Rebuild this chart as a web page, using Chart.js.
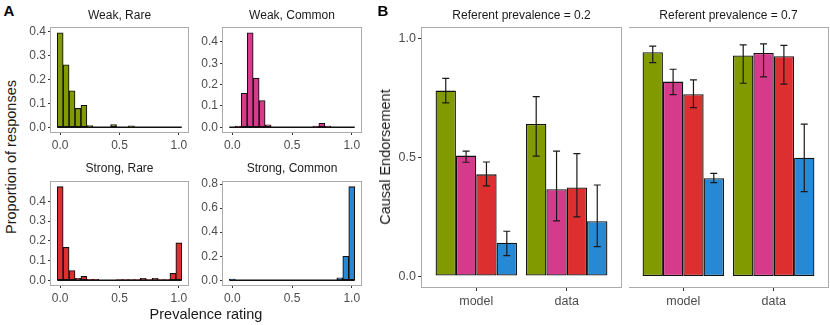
<!DOCTYPE html>
<html>
<head>
<meta charset="utf-8">
<script src="https://cdn.jsdelivr.net/npm/chart.js@4.4.1/dist/chart.umd.min.js"></script>
<style>
  html, body { margin: 0; padding: 0; background: #fff; overflow: hidden; }
  #fig { position: relative; width: 830px; height: 325px; font-family: "Liberation Sans", Arial, sans-serif; }
  .box { position: absolute; }
  .lbl { position: absolute; white-space: nowrap; color: #1a1a1a; transform: translate(-50%, -50%); }
</style>
</head>
<body>
<div id="fig"></div>
<script>
/* ===========================
   DATA
=========================== */

// panel A: histograms of prevalence ratings (bin width 0.05)
const binCenters = [0.00, 0.05, 0.10, 0.15, 0.20, 0.25, 0.30, 0.35, 0.40, 0.45, 0.50,
                    0.55, 0.60, 0.65, 0.70, 0.75, 0.80, 0.85, 0.90, 0.95, 1.00];
const weakRare     = [0.396, 0.262, 0.153, 0.079, 0.092, 0.007, 0, 0, 0, 0.011, 0,
                      0, 0.006, 0, 0, 0, 0, 0, 0, 0, 0];
const weakCommon   = [0, 0.006, 0.159, 0.443, 0.230, 0.125, 0.012, 0, 0, 0, 0,
                      0, 0, 0, 0.006, 0.019, 0.006, 0, 0, 0, 0];
const strongRare   = [0.475, 0.167, 0.050, 0.010, 0.020, 0.005, 0.005, 0, 0, 0, 0.004,
                      0.004, 0.004, 0.004, 0.010, 0.004, 0.010, 0.004, 0.004, 0.035, 0.190];
const strongCommon = [0.010, 0, 0, 0, 0, 0, 0, 0, 0, 0, 0,
                      0, 0, 0, 0, 0, 0, 0, 0.020, 0.200, 0.778];
const histTicksX = [0, 0.5, 1.0];
const histTicksY = [0, 0.1, 0.2, 0.3, 0.4];
const histTicksYCommon = [0, 0.2, 0.4, 0.6, 0.8];

// panel B: causal endorsement, order = weak rare, weak common, strong rare, strong common
const groups = ["model", "data"];
const seriesNames = ["Weak, Rare", "Weak, Common", "Strong, Rare", "Strong, Common"];
const seriesColors = ["#809a00", "#d63a8a", "#dd2f2f", "#2789d4"];

const ref02Model   = [0.782, 0.508, 0.429, 0.141];
const ref02ModelLo = [0.730, 0.480, 0.380, 0.086];
const ref02ModelHi = [0.834, 0.527, 0.481, 0.189];
const ref02Data    = [0.641, 0.366, 0.374, 0.231];
const ref02DataLo  = [0.506, 0.233, 0.250, 0.124];
const ref02DataHi  = [0.757, 0.527, 0.516, 0.384];

const ref07Model   = [0.944, 0.820, 0.767, 0.413];
const ref07ModelLo = [0.900, 0.765, 0.710, 0.394];
const ref07ModelHi = [0.970, 0.872, 0.827, 0.433];
const ref07Data    = [0.930, 0.941, 0.927, 0.499];
const ref07DataLo  = [0.813, 0.840, 0.809, 0.356];
const ref07DataHi  = [0.975, 0.979, 0.973, 0.641];

const endorseTicksY = [0, 0.5, 1.0];

/* ===========================
   HELPERS
=========================== */

const fig = document.getElementById("fig");
const FONT = "'Liberation Sans', Arial, sans-serif";
const TICK_COLOR = "#4d4d4d";

function addLabel(text, x, y, size, opts = {}) {
  const d = document.createElement("div");
  d.className = "lbl";
  d.textContent = text;
  d.style.left = x + "px";
  d.style.top = y + "px";
  d.style.fontSize = size + "px";
  if (opts.bold) d.style.fontWeight = "bold";
  if (opts.rotate) d.style.transform = "translate(-50%, -50%) rotate(-90deg)";
  if (opts.color) d.style.color = opts.color;
  fig.appendChild(d);
}

// places a canvas so that the chart area lands on the given plot box
function addCanvas(plot, yAxisW, xAxisH, padTop, padRight) {
  const div = document.createElement("div");
  div.className = "box";
  div.style.left = (plot.left - yAxisW) + "px";
  div.style.top = (plot.top - padTop) + "px";
  div.style.width = (plot.right - plot.left + yAxisW + padRight) + "px";
  div.style.height = (plot.bottom - plot.top + padTop + xAxisH) + "px";
  const c = document.createElement("canvas");
  div.appendChild(c);
  fig.appendChild(div);
  return c.getContext("2d");
}

const panelBorder = {
  id: "panelBorder",
  afterDraw(chart) {
    const a = chart.chartArea, ctx = chart.ctx;
    ctx.save();
    ctx.strokeStyle = "#ababab";
    ctx.lineWidth = 1;
    ctx.strokeRect(Math.round(a.left) - 0.5, Math.round(a.top) - 0.5,
                   Math.round(a.right - a.left) + 1, Math.round(a.bottom - a.top) + 1);
    ctx.restore();
  }
};

// zero-height histogram bins still show their outline in the original
const histBaseline = {
  id: "histBaseline",
  afterDatasetsDraw(chart) {
    const x = chart.scales.x, y = chart.scales.y, ctx = chart.ctx;
    const y0 = y.getPixelForValue(0);
    ctx.save();
    ctx.strokeStyle = "#111";
    ctx.lineWidth = 1.6;
    ctx.beginPath();
    ctx.moveTo(x.getPixelForValue(binCenters[0] - 0.025), y0);
    ctx.lineTo(x.getPixelForValue(binCenters[binCenters.length - 1] + 0.025), y0);
    ctx.stroke();
    ctx.restore();
  }
};

const errorBars = {
  id: "errorBars",
  afterDatasetsDraw(chart) {
    const y = chart.scales.y, ctx = chart.ctx;
    ctx.save();
    ctx.strokeStyle = "#1a1a1a";
    ctx.lineWidth = 1.2;
    chart.data.datasets.forEach((ds, i) => {
      chart.getDatasetMeta(i).data.forEach((bar, j) => {
        const lo = y.getPixelForValue(ds.lo[j]);
        const hi = y.getPixelForValue(ds.hi[j]);
        ctx.beginPath();
        ctx.moveTo(bar.x, lo); ctx.lineTo(bar.x, hi);
        ctx.moveTo(bar.x - 3.5, lo); ctx.lineTo(bar.x + 3.5, lo);
        ctx.moveTo(bar.x - 3.5, hi); ctx.lineTo(bar.x + 3.5, hi);
        ctx.stroke();
      });
    });
    ctx.restore();
  }
};

function fixedTicks(list) {
  return s => { s.ticks = list.map(v => ({ value: v })); };
}

const tickGrid = len => ({ display: true, offset: false, drawOnChartArea: false, tickLength: len, color: "#333" });

/* ===========================
   PANEL A: HISTOGRAMS
=========================== */

function histogram(plot, values, color, ticksY) {
  const ctx = addCanvas(plot, 30, 22, 10, 12);
  const top = Math.max(...values);
  new Chart(ctx, {
    type: "bar",
    data: {
      datasets: [{
        data: binCenters.map((b, i) => ({ x: b, y: values[i] })),
        backgroundColor: color,
        borderColor: "#111",
        borderWidth: 1.1,
        borderSkipped: false,
        categoryPercentage: 1,
        barPercentage: 1
      }]
    },
    options: {
      responsive: true,
      maintainAspectRatio: false,
      animation: false,
      layout: { padding: { top: 10, right: 12, left: 0, bottom: 0 } },
      plugins: { legend: { display: false }, tooltip: { enabled: false } },
      scales: {
        x: {
          type: "linear",
          offset: false,
          min: -0.0775,
          max: 1.0775,
          afterBuildTicks: fixedTicks(histTicksX),
          afterFit: s => { s.height = 22; },
          grid: tickGrid(3),
          border: { display: false },
          ticks: { color: TICK_COLOR, font: { family: FONT, size: 12 }, padding: 3,
                   maxRotation: 0, callback: v => v.toFixed(1) }
        },
        y: {
          min: -0.05 * top,
          max: 1.05 * top,
          afterBuildTicks: fixedTicks(ticksY),
          afterFit: s => { s.width = 30; },
          grid: tickGrid(3),
          border: { display: false },
          ticks: { color: TICK_COLOR, font: { family: FONT, size: 12 }, padding: 2,
                   callback: v => v.toFixed(1) }
        }
      }
    },
    plugins: [histBaseline, panelBorder]
  });
}

histogram({ left: 51, right: 188, top: 28, bottom: 132 }, weakRare, seriesColors[0], histTicksY);
histogram({ left: 223, right: 361, top: 28, bottom: 132 }, weakCommon, seriesColors[1], histTicksY);
histogram({ left: 51, right: 188, top: 182, bottom: 285 }, strongRare, seriesColors[2], histTicksY);
histogram({ left: 223, right: 361, top: 182, bottom: 285 }, strongCommon, seriesColors[3], histTicksYCommon);

addLabel("A", 9, 10, 15, { bold: true, color: "#000" });
addLabel(seriesNames[0], 119.5, 15, 12);
addLabel(seriesNames[1], 292, 15, 12);
addLabel(seriesNames[2], 119.5, 168, 12);
addLabel(seriesNames[3], 292, 168, 12);
addLabel("Prevalence rating", 206, 314, 14.5);
addLabel("Proportion of responses", 11, 157, 14.5, { rotate: true });

/* ===========================
   PANEL B: CAUSAL ENDORSEMENT
=========================== */

function endorsement(plot, model, modelLo, modelHi, dat, datLo, datHi, showY) {
  const yW = showY ? 40 : 0;
  const ctx = addCanvas(plot, yW, 26, 10, 2);
  new Chart(ctx, {
    type: "bar",
    data: {
      datasets: seriesNames.map((name, k) => ({
        label: name,
        data: [{ x: 1, y: model[k] }, { x: 2, y: dat[k] }],
        lo: [modelLo[k], datLo[k]],
        hi: [modelHi[k], datHi[k]],
        backgroundColor: seriesColors[k],
        borderColor: "#111",
        borderWidth: 1.3,
        borderSkipped: false,
        categoryPercentage: 0.9,
        barPercentage: 1
      }))
    },
    options: {
      responsive: true,
      maintainAspectRatio: false,
      animation: false,
      layout: { padding: { top: 10, right: 2, left: 0, bottom: 0 } },
      plugins: { legend: { display: false }, tooltip: { enabled: false } },
      scales: {
        x: {
          type: "linear",
          offset: false,
          min: 0.4,
          max: 2.6,
          afterBuildTicks: fixedTicks([1, 2]),
          afterFit: s => { s.height = 26; },
          grid: tickGrid(4),
          border: { display: false },
          ticks: { color: TICK_COLOR, font: { family: FONT, size: 12.5 }, padding: 3,
                   maxRotation: 0, callback: (v, i) => groups[i] }
        },
        y: {
          display: showY,
          min: -0.046,
          max: 1.046,
          afterBuildTicks: fixedTicks(endorseTicksY),
          afterFit: s => { s.width = yW; },
          grid: tickGrid(4),
          border: { display: false },
          ticks: { color: TICK_COLOR, font: { family: FONT, size: 12.5 }, padding: 2,
                   callback: v => v.toFixed(1) }
        }
      }
    },
    plugins: [errorBars, panelBorder]
  });
}

endorsement({ left: 422, right: 621, top: 28, bottom: 287 },
            ref02Model, ref02ModelLo, ref02ModelHi, ref02Data, ref02DataLo, ref02DataHi, true);
endorsement({ left: 629, right: 828, top: 28, bottom: 287 },
            ref07Model, ref07ModelLo, ref07ModelHi, ref07Data, ref07DataLo, ref07DataHi, false);

addLabel("B", 383, 10, 15, { bold: true, color: "#000" });
addLabel("Referent prevalence = 0.2", 521.5, 15, 12);
addLabel("Referent prevalence = 0.7", 728.5, 15, 12);
addLabel("Causal Endorsement", 385, 157, 14.5, { rotate: true });
</script>
</body>
</html>
